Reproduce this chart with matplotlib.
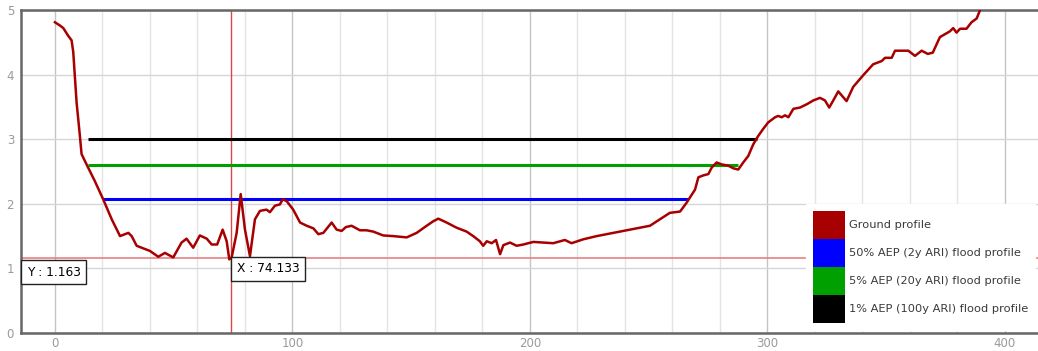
#!/usr/bin/env python3
"""Ground profile vs flood level profiles (cross section chart)."""
import matplotlib

matplotlib.use("Agg")
import matplotlib.pyplot as plt
from matplotlib.patches import Patch
from matplotlib.ticker import MultipleLocator

# ground profile (chainage, elevation)
ground_x = [0, 2.1, 3.5, 5.6, 7.0, 7.7, 9.1, 10.5, 11.2, 13.3, 16.8, 20.3, 23.9,
            27.4, 29.5, 30.9, 32.3, 34.4, 37.2, 40.0, 43.5, 46.3, 49.8, 53.3,
            55.4, 58.2, 61.0, 63.9, 66.0, 68.3, 70.6, 72.3, 73.4, 74.4, 76.5,
            78.2, 80.0, 82.1, 84.2, 86.3, 89.1, 90.5, 92.6, 94.7, 95.9, 97.6,
            100.3, 103.2, 106.0, 108.8, 110.9, 113.0, 116.5, 118.6, 120.7,
            122.5, 124.9, 128.4, 131.2, 134.0, 138.2, 142.4, 145.3, 148.1,
            152.3, 156.5, 159.3, 161.4, 164.9, 169.1, 173.3, 176.1, 178.9,
            180.3, 181.8, 183.9, 185.7, 187.4, 188.8, 191.6, 194.4, 197.2,
            201.4, 205.6, 209.8, 214.7, 217.5, 222.4, 228.1, 233.7, 239.3,
            244.9, 250.5, 254.7, 258.9, 263.2, 266.0, 267.4, 269.5, 270.9,
            273.0, 275.1, 276.5, 278.6, 280.7, 283.5, 285.6, 287.7, 289.8,
            291.9, 294.0, 296.1, 298.2, 300.3, 303.2, 304.5, 306.0, 307.4,
            308.8, 310.9, 313.7, 316.5, 319.3, 322.1, 324.2, 326.0, 327.7,
            329.8, 333.3, 336.1, 340.3, 344.5, 348.1, 349.5, 352.3, 353.7,
            359.3, 362.1, 364.9, 367.5, 369.6, 372.6, 376.8, 378.2, 379.6,
            381.1, 383.8, 385.9, 388.1, 389.5, 390.5]
ground_y = [4.81, 4.76, 4.72, 4.60, 4.53, 4.35, 3.57, 3.05, 2.77, 2.61, 2.35,
            2.07, 1.76, 1.50, 1.53, 1.55, 1.50, 1.35, 1.31, 1.27, 1.18, 1.24,
            1.17, 1.40, 1.46, 1.32, 1.51, 1.46, 1.37, 1.37, 1.60, 1.42, 1.14,
            1.17, 1.55, 2.15, 1.60, 1.19, 1.76, 1.89, 1.91, 1.87, 1.97, 1.99,
            2.07, 2.04, 1.91, 1.71, 1.66, 1.62, 1.53, 1.55, 1.71, 1.60, 1.58,
            1.64, 1.66, 1.59, 1.59, 1.57, 1.51, 1.50, 1.49, 1.48, 1.55, 1.66,
            1.73, 1.77, 1.71, 1.63, 1.57, 1.50, 1.42, 1.35, 1.42, 1.39, 1.44,
            1.22, 1.36, 1.40, 1.35, 1.37, 1.41, 1.40, 1.39, 1.44, 1.39, 1.45,
            1.50, 1.54, 1.58, 1.62, 1.66, 1.76, 1.86, 1.88, 2.02, 2.10, 2.22,
            2.41, 2.44, 2.46, 2.56, 2.64, 2.61, 2.59, 2.55, 2.53, 2.64, 2.74,
            2.92, 3.05, 3.16, 3.26, 3.34, 3.36, 3.34, 3.37, 3.34, 3.47, 3.49,
            3.54, 3.60, 3.64, 3.60, 3.49, 3.60, 3.74, 3.59, 3.81, 3.99, 4.16,
            4.21, 4.26, 4.26, 4.37, 4.37, 4.29, 4.37, 4.32, 4.34, 4.58, 4.67,
            4.72, 4.65, 4.71, 4.71, 4.81, 4.87, 5.00, 5.10]

# flood profiles: level, start and end chainage
flood_labels = ["50% AEP (2y ARI) flood profile",
                "5% AEP (20y ARI) flood profile",
                "1% AEP (100y ARI) flood profile"]
flood_levels = [2.08, 2.60, 3.00]
flood_start = [20.3, 14.0, 14.0]
flood_end = [266.5, 287.5, 295.5]
flood_colors = ["#0000ff", "#00a000", "#000000"]

# cursor readout
cursor_x = 74.133
cursor_y = 1.163

GROUND_COLOR = "#a80000"


def main() -> None:
    fig = plt.figure(figsize=(10.38, 3.51), dpi=100)
    ax = fig.add_axes([21 / 1038, 18 / 351, 1017 / 1038, 323 / 351])
    ax.set_xlim(-14.3, 413.9)
    ax.set_ylim(0, 5)

    ax.xaxis.set_major_locator(MultipleLocator(100))
    ax.xaxis.set_minor_locator(MultipleLocator(20))
    ax.yaxis.set_major_locator(MultipleLocator(1))
    ax.grid(which="minor", axis="x", color="#e4e4e4", lw=1)
    ax.grid(which="major", axis="x", color="#c4c4c4", lw=1)
    ax.grid(which="major", axis="y", color="#d6d6d6", lw=1)
    ax.set_axisbelow(True)
    ax.tick_params(which="both", length=0, labelsize=8.5, labelcolor="#9a9a9a")
    ax.tick_params(axis="y", pad=5)
    ax.tick_params(axis="x", pad=3)
    for side in ("left", "top", "bottom"):
        ax.spines[side].set_color("#666666")
        ax.spines[side].set_linewidth(1.8)
    ax.spines["right"].set_visible(False)

    # cursor crosshair
    ax.axvline(cursor_x, color="#d84848", lw=1, zorder=2)
    ax.axhline(cursor_y, color="#e88080", lw=1.2, zorder=2)

    for lvl, x0, x1, c in zip(flood_levels, flood_start, flood_end, flood_colors):
        ax.plot([x0, x1], [lvl, lvl], color=c, lw=2.2, zorder=3, solid_capstyle="butt")

    ax.plot(ground_x, ground_y, color=GROUND_COLOR, lw=1.8, zorder=4,
            solid_joinstyle="round")

    box = dict(boxstyle="square,pad=0.45", fc="white", ec="#222222", lw=1)
    ax.annotate(f"Y : {cursor_y:.3f}", xy=(ax.get_xlim()[0], cursor_y),
                xytext=(4, -5.5), textcoords="offset points", va="top", ha="left",
                fontsize=8.8, bbox=box, zorder=6, annotation_clip=False)
    ax.annotate(f"X : {cursor_x:.3f}", xy=(cursor_x, cursor_y),
                xytext=(4, -3.3), textcoords="offset points", va="top", ha="left",
                fontsize=8.8, bbox=box, zorder=6)

    handles = [Patch(fc=GROUND_COLOR, ec="none", label="Ground profile")]
    handles += [Patch(fc=c, ec="none", label=l) for c, l in zip(flood_colors, flood_labels)]
    leg = ax.legend(handles=handles, loc="lower left", bbox_to_anchor=(0.769, 0.0),
                    fontsize=8.2, handlelength=2.8, handleheight=3.41,
                    labelspacing=0.0, handletextpad=0.3, borderpad=0.6,
                    borderaxespad=0.3, frameon=True, fancybox=False,
                    edgecolor="white", framealpha=1)
    leg.set_zorder(7)
    for t in leg.get_texts():
        t.set_color("#3a3a3a")

    fig.savefig("out.png", dpi=100)
    plt.close(fig)


if __name__ == "__main__":
    main()
